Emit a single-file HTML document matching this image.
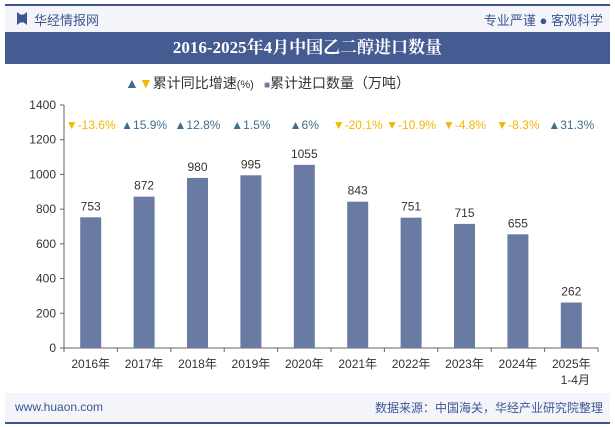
<!DOCTYPE html>
<html><head><meta charset="utf-8"><style>
body{margin:0;width:615px;height:427px;background:#fff;font-family:"Liberation Sans","Noto Sans CJK SC",sans-serif;overflow:hidden;position:relative}
.abs{position:absolute}
</style></head><body>
<div class="abs" style="left:5px;top:4px;width:605px;height:29px;background:#f3f5fa;border-top:2px solid #3e5591"></div>
<div class="abs" style="left:17px;top:12px;width:10px;height:13px;background:#3e5591;clip-path:polygon(0 0,35% 20%,65% 20%,100% 0,100% 100%,65% 80%,35% 80%,0 100%)"></div>
<div class="abs" style="left:34px;top:10px;font-size:13px;color:#3e5591">华经情报网</div>
<div class="abs" style="right:12px;top:10px;font-size:13px;color:#3e5591">专业严谨 ● 客观科学</div>
<div class="abs" style="left:5px;top:32px;width:605px;height:32px;background:#455b92;color:#fff;font-family:'Liberation Serif','Noto Serif CJK SC',serif;font-weight:bold;font-size:17px;text-align:center;line-height:32px">2016-2025年4月中国乙二醇进口数量</div>
<div class="abs" style="left:125px;top:73px;font-size:14px;color:#333"><span style="color:#3e6e8e">▲</span><span style="color:#f5b800">▼</span>累计同比增速<span style="font-size:11px">(%)</span></div>
<div class="abs" style="left:264px;top:73px;font-size:14px;color:#333"><span style="color:#6a7ba3;font-size:10px">■</span>累计进口数量（万吨）</div>
<svg class="abs" style="left:0;top:0" width="615" height="427" id="chart"></svg>
<div class="abs" style="left:5px;top:393px;width:605px;height:29px;background:#f3f5fa;border-bottom:2px solid #3e5591"></div>
<div class="abs" style="left:15px;top:400px;font-size:12px;color:#3e5591">www.huaon.com</div>
<div class="abs" style="right:12px;top:399px;font-size:12px;color:#3e5591">数据来源：中国海关，华经产业研究院整理</div>
<script>
const categories=["2016年","2017年","2018年","2019年","2020年","2021年","2022年","2023年","2024年","2025年"];
const volumes=[753,872,980,995,1055,843,751,715,655,262];
const growth=[-13.6,15.9,12.8,1.5,6,-20.1,-10.9,-4.8,-8.3,31.3];
const yTicks=[0,200,400,600,800,1000,1200,1400];
const svg=document.getElementById('chart');const NS='http://www.w3.org/2000/svg';
const x0=64,x1=598,yb=348,yt=105,ymax=1400;
const bw=(x1-x0)/categories.length;
const y=v=>yb-(v/ymax)*(yb-yt);
const xc=i=>x0+bw*(i+0.5);
function mk(t,a,txt){const e=document.createElementNS(NS,t);for(const k in a)e.setAttribute(k,a[k]);if(txt!=null)e.textContent=txt;svg.appendChild(e);return e;}
let e=mk('line',{x1:x0,y1:yt,x2:x0,y2:yb,stroke:'#666'});

e=mk('line',{x1:x0,y1:yb,x2:x1,y2:yb,stroke:'#666'});

yTicks.forEach(t=>{
 mk('line',{x1:x0-4,y1:y(t),x2:x0,y2:y(t),stroke:'#666'});
 e=mk('text',{x:x0-8,y:y(t)+4,'text-anchor':'end','font-size':12,fill:'#333'},t);
 
});
for(let i=0;i<=categories.length;i++)mk('line',{x1:x0+bw*i,y1:yb,x2:x0+bw*i,y2:yb+4,stroke:'#666'});
categories.forEach((c,i)=>{
 const cx=xc(i);
 e=mk('rect',{x:cx-10.5,y:y(volumes[i]),width:21,height:yb-y(volumes[i]),fill:'#6a7ba3'});
 
 e=mk('text',{x:cx,y:y(volumes[i])-7,'text-anchor':'middle','font-size':12,fill:'#333'},volumes[i]);
 
 e=mk('text',{x:cx,y:yb+20,'text-anchor':'middle','font-size':12,fill:'#333'},c);
 
 const g=growth[i],up=g>=0;
 e=mk('text',{x:cx,y:129,'text-anchor':'middle','font-size':12,fill:up?'#3e6e8e':'#f5b800'},(up?'▲':'▼')+g+'%');
 
});
e=mk('text',{x:xc(9)+4,y:yb+36,'text-anchor':'middle','font-size':12,fill:'#333'},'1-4月');

</script>
</body></html>
